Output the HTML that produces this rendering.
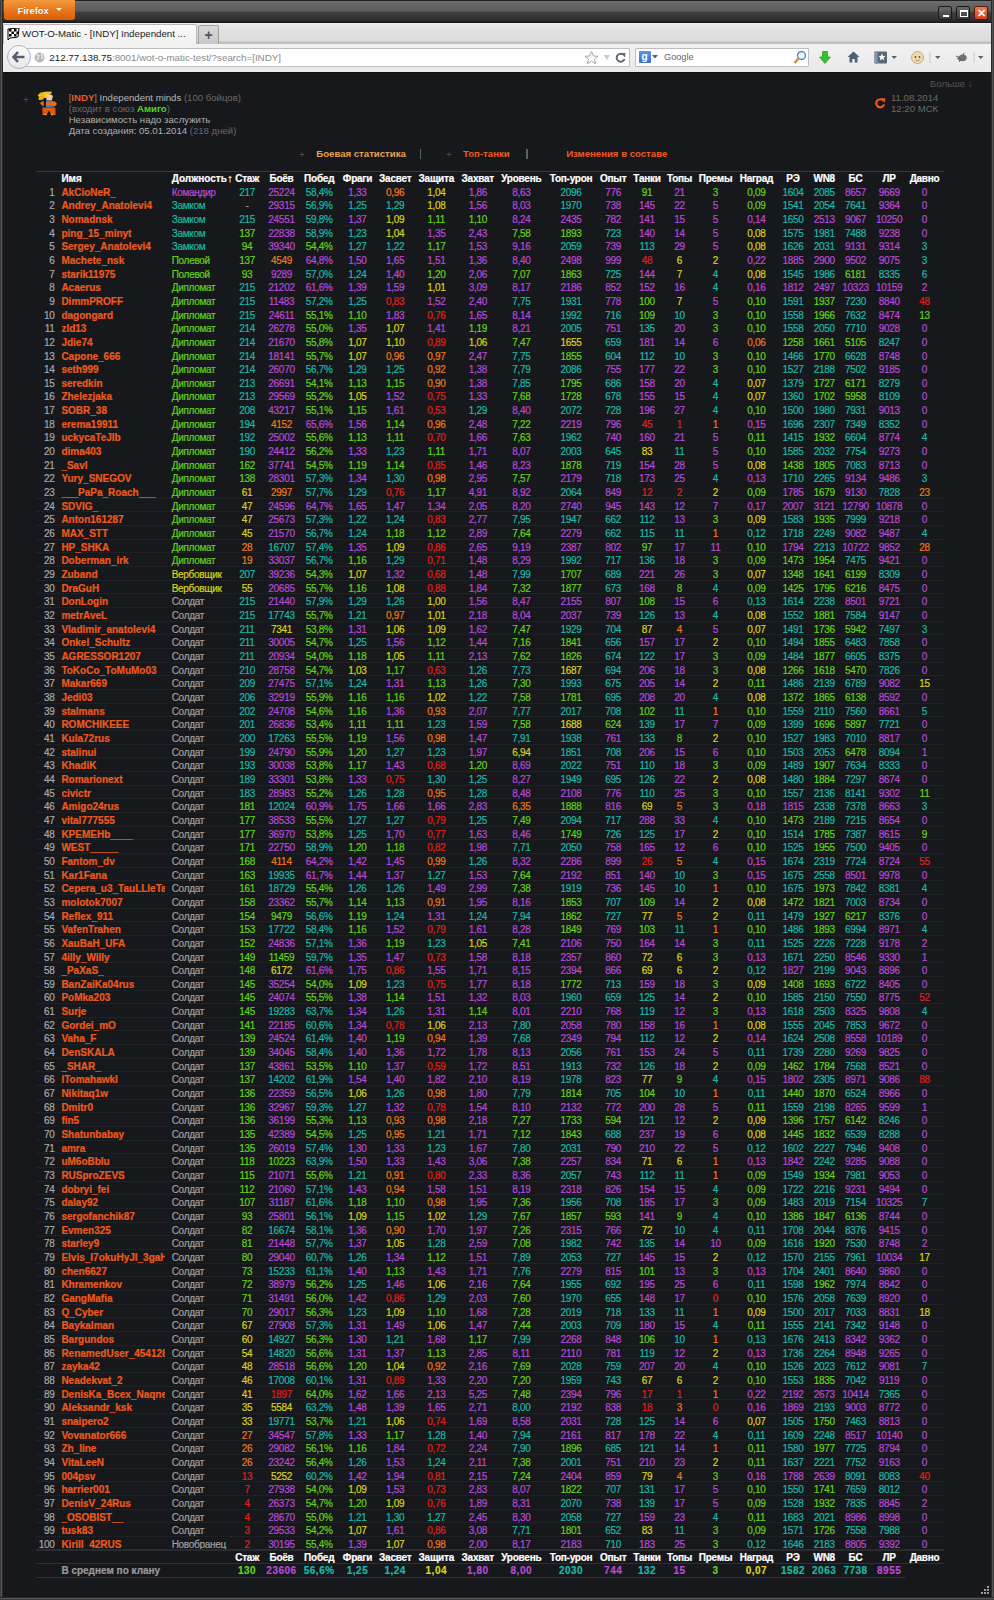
<!DOCTYPE html>
<html><head><meta charset="utf-8"><style>
*{margin:0;padding:0;box-sizing:border-box}
html,body{width:994px;height:1600px;overflow:hidden;background:#17181b;font-family:"Liberation Sans",sans-serif}
#win{position:absolute;left:0;top:0;width:994px;height:1600px;background:#17181b}
#title{position:absolute;left:0;top:0;width:994px;height:23px;background:linear-gradient(#222 0,#222 1px,#7a7a7a 1.6px,#686868 3px,#5c5c5c 11px,#3e3e3e 12.5px,#333 19px,#262626 21px,#1a1a1a 22px)}
#ffbtn{position:absolute;left:4px;top:0;width:71px;height:20px;border-radius:0 0 3px 3px;background:linear-gradient(#f39a3c,#e8791c 50%,#d9600a);color:#fff;font:bold 9.4px "Liberation Sans",sans-serif;line-height:21px;padding-left:13.5px;text-shadow:0 0 1px rgba(120,50,0,.6)}
#ffbtn:after{content:"";position:absolute;left:52px;top:8px;border-left:3px solid transparent;border-right:3px solid transparent;border-top:3px solid #fff}
.wc{position:absolute;top:6px;width:14px;height:14px;border-radius:2px;border:1px solid #1a1a1a;background:linear-gradient(#6a6a6a,#3a3a3a)}
#tabs{position:absolute;left:3px;top:22.8px;width:988px;height:21px;background:linear-gradient(#f2f2f2,#e6e6e6 2px,#dadada 18px,#bdbdbd 19.5px,#c4c4c4 21px)}
#tab{position:absolute;left:3px;top:23.5px;width:194px;height:21px;background:linear-gradient(#fafafa,#f0f0f0);border:1px solid #b8b8b8;border-bottom:none;border-radius:2px 2px 0 0}
#tabt{position:absolute;left:22px;top:28px;font:9.7px "Liberation Sans",sans-serif;color:#222;white-space:nowrap}
#plus{position:absolute;left:198px;top:24.7px;width:21px;height:19px;background:linear-gradient(#d8d8d8,#c8c8c8);border:1px solid #a0a0a0;border-bottom:none;border-radius:2px 2px 0 0;color:#4a5664;font:bold 14px "Liberation Sans",sans-serif;text-align:center;line-height:18px}
#nav{position:absolute;left:3px;top:43.5px;width:988px;height:28.3px;background:linear-gradient(#f2f2f2,#e9e9e9)}
#url{position:absolute;left:22px;top:48px;width:608px;height:18.5px;background:#fff;border:1px solid #bdbdbd;border-radius:1px}
#back{position:absolute;left:6.5px;top:45.2px;width:24px;height:24px;border-radius:50%;background:linear-gradient(#fbfbfb,#e8e8e8);border:1px solid #a9b5c2}
#urlt{position:absolute;left:49.3px;top:52px;font:9.8px "Liberation Sans",sans-serif;color:#222;white-space:nowrap}
#urlt span{color:#8a8a8a}
#srch{position:absolute;left:635px;top:48px;width:173.5px;height:18.5px;background:#fff;border:1px solid #bdbdbd;border-radius:1px}
#srcht{position:absolute;left:664px;top:52px;font:9.2px "Liberation Sans",sans-serif;color:#666}
#lb{position:absolute;left:0;top:0;width:3px;height:1600px;background:linear-gradient(90deg,#2e2e2e,#575757 50%,#121212)}
#rb{position:absolute;left:991px;top:0;width:3px;height:1600px;background:linear-gradient(90deg,#121212,#575757 50%,#2e2e2e)}
#bb{position:absolute;left:0;top:1597px;width:994px;height:3px;background:linear-gradient(#121212,#575757 50%,#2e2e2e)}
#navbot{position:absolute;left:3px;top:71.8px;width:988px;height:1.2px;background:#0e0e0e}
.g{position:absolute;font:9.6px "Liberation Sans",sans-serif;white-space:nowrap;line-height:11px}
/* table */
.r{position:absolute;left:36px;width:907.5px;height:12.7px;border-bottom:1px dotted #28292c}
.r b,.r i{position:absolute;top:0;font-style:normal;white-space:nowrap;line-height:13px;font-size:10px;letter-spacing:-0.3px;-webkit-text-stroke:0.2px}
.r .n{left:-26px;width:44.5px;text-align:right;font-weight:normal;color:#a6a8ae}
.r .nm{left:25.4px;width:104px;overflow:hidden;font-weight:bold;font-size:10px;letter-spacing:0;color:#ec5a1e}
.r .rl{left:135.7px;color:#a0a0a0}
.r [class^=k],.r [class*=" k"]{width:60px;text-align:center;margin-left:-36px}
.h b,.h .rl{color:#fff;font-weight:bold;font-size:10px;letter-spacing:-0.25px}
.h .nm{color:#fff}
.nb{border-bottom:none}.h{border-top:1px solid #38393c;border-bottom:none}
.fh{border-top:2px solid #2a2b2e;border-bottom:1px solid #2e2f32;height:14.7px}
.fa{border-bottom:1px solid #2e2f32;height:14.1px;width:870px}
.fa b{font-weight:bold;letter-spacing:0.5px}
.fa .av{color:#9a9a9a;width:200px;letter-spacing:0}
.k0{left:217.1px}.k1{left:251.5px}.k2{left:289.2px}.k3{left:327.5px}.k4{left:365.2px}.k5{left:406.3px}.k6{left:447.8px}.k7{left:491.3px}.k8{left:541.0px}.k9{left:583.2px}.k10{left:617.0px}.k11{left:649.5px}.k12{left:685.5px}.k13{left:726.4px}.k14{left:763.0px}.k15{left:794.2px}.k16{left:825.5px}.k17{left:859.2px}.k18{left:894.5px}
.r .R{color:#e0201a}.r .O{color:#ec7a1a}.r .Y{color:#d8d418}.r .G{color:#62d21a}.r .T{color:#1ab8a8}.r .P{color:#b84ad8}.r .X{color:#a0a0a0}
</style></head><body><div id="win">
<div id="title"></div>
<div id="ffbtn">Firefox</div>
<div class="wc" style="left:938px"><div style="position:absolute;left:4px;top:8px;width:6px;height:2px;background:#fff"></div></div>
<div class="wc" style="left:956px"><div style="position:absolute;left:2.5px;top:2.5px;width:8px;height:7px;border:1px solid #fff;border-top-width:2px"></div></div>
<div class="wc" style="left:974px;background:linear-gradient(#f07a50,#d0401c);border-color:#5a1a0a;color:#fff;font:bold 11px 'Liberation Sans';text-align:center;line-height:12px">✕</div>
<div id="tabs"></div>
<div id="tab"></div>
<svg style="position:absolute;left:7px;top:28px" width="13" height="12" viewBox="0 0 13 12"><path d="M1 1 L12 0 L11 9 L3 10 L1 12 Z" fill="#fff" stroke="#000" stroke-width="1"/><g fill="#000"><rect x="2" y="1" width="2.5" height="2.5"/><rect x="7" y="1" width="2.5" height="2.5"/><rect x="4.5" y="3.5" width="2.5" height="2.5"/><rect x="9.5" y="3.5" width="2" height="2.5"/><rect x="2" y="6" width="2.5" height="2.5"/><rect x="7" y="6" width="2.5" height="2.5"/></g></svg>
<div id="tabt">WOT-O-Matic - [INDY] Independent ...</div>
<div id="plus">+</div>
<div id="nav"></div>
<div id="navbot"></div>
<div id="url"></div>
<div id="back"></div>
<svg style="position:absolute;left:12px;top:51px" width="14" height="12" viewBox="0 0 14 12"><path d="M6 1 L1.5 6 L6 11 M2 6 H12.5" fill="none" stroke="#51606e" stroke-width="2.6"/></svg>
<svg style="position:absolute;left:34px;top:52px" width="11" height="11" viewBox="0 0 11 11"><circle cx="5.5" cy="5.5" r="5" fill="#b8b8b8"/><path d="M2 3 Q4 2 5 4 Q4 6 3 8 M7 2 Q9 4 8 7" stroke="#e8e8e8" stroke-width="1.4" fill="none"/></svg>
<div id="urlt">212.77.138.75<span>:8001/wot-o-matic-test/?search=[INDY]</span></div>
<svg style="position:absolute;left:583px;top:50px" width="46" height="15" viewBox="0 0 46 15"><path d="M8.5 1.5 L10.5 6 L15 6.3 L11.5 9.3 L12.7 13.8 L8.5 11.3 L4.3 13.8 L5.5 9.3 L2 6.3 L6.5 6 Z" fill="#fafafa" stroke="#a8a8a8" stroke-width="1"/><path d="M21 5 L27 5 L24 10 Z" fill="#c0c8d0"/><path d="M40 4.5 A4 4 0 1 0 41.5 9" fill="none" stroke="#606a74" stroke-width="2"/><path d="M38 3 L42.5 3 L42 7.5 Z" fill="#606a74"/></svg>
<div id="srch"></div>
<div style="position:absolute;left:638.5px;top:51px;width:12px;height:12px;background:linear-gradient(#5b95e8,#3a70d0);border-radius:1px;color:#fff;font:bold 10px 'Liberation Sans';text-align:center;line-height:12px">g</div>
<svg style="position:absolute;left:652px;top:55px" width="6" height="4"><path d="M0 0 H6 L3 3.5Z" fill="#606060"/></svg>
<div id="srcht">Google</div>
<svg style="position:absolute;left:793px;top:50px" width="14" height="15" viewBox="0 0 14 15"><circle cx="8.5" cy="5.5" r="4" fill="#e8f4ff" stroke="#5a8ab8" stroke-width="1.4"/><path d="M5.5 8.5 L1.5 13" stroke="#d88a30" stroke-width="2.4"/></svg>
<svg style="position:absolute;left:819px;top:51px" width="12" height="13" viewBox="0 0 12 13"><path d="M3.5 0.5 H8.5 V6 H11.5 L6 12.5 L0.5 6 H3.5 Z" fill="#2ec42a" stroke="#1a8a18" stroke-width="0.6"/></svg>
<svg style="position:absolute;left:847px;top:51px" width="13" height="12" viewBox="0 0 13 12"><path d="M6.5 0.5 L12.5 6 H10.5 V11.5 H7.8 V8 H5.2 V11.5 H2.5 V6 H0.5 Z" fill="#4f6272"/></svg>
<svg style="position:absolute;left:874px;top:51px" width="24" height="13" viewBox="0 0 24 13"><rect x="0.5" y="0.5" width="12.5" height="12" rx="1" fill="#58697a"/><rect x="0.5" y="0.5" width="3" height="12" fill="#8796a4"/><path d="M8 2.5 L9 5 L11.5 5.2 L9.6 6.8 L10.2 9.3 L8 7.9 L5.8 9.3 L6.4 6.8 L4.5 5.2 L7 5 Z" fill="#fff"/><path d="M17.5 5 H23 L20.2 8 Z" fill="#4f6272"/></svg>
<svg style="position:absolute;left:911px;top:51px" width="30" height="13" viewBox="0 0 30 13"><circle cx="6.5" cy="6.5" r="6" fill="#f0d8b0" stroke="#c8a878" stroke-width="1"/><circle cx="4.5" cy="6" r="0.9" fill="#555"/><circle cx="8.5" cy="6" r="0.9" fill="#555"/><path d="M4.5 9 Q6.5 10.5 8.5 9" stroke="#777" fill="none" stroke-width="0.8"/><rect x="18.5" y="1" width="1" height="11" fill="#c8ccd0"/><path d="M24 5 H29.5 L26.7 8 Z" fill="#4f6272"/></svg>
<svg style="position:absolute;left:955px;top:51px" width="30" height="13" viewBox="0 0 30 13"><path d="M2 8 Q5 2 10 4 Q13 6 11 9 Q7 12 2 8Z" fill="#707070"/><path d="M1 5 L5 7 M4 11 L6 8 M9 2 L8 5" stroke="#606060" stroke-width="1"/><rect x="18.5" y="1" width="1" height="11" fill="#c8ccd0"/><path d="M23 5 H28.5 L25.7 8 Z" fill="#4f6272"/></svg>
<div id="lb"></div><div id="rb"></div><div id="bb"></div>

<!-- page header -->
<div class="g" style="left:23px;top:94px;color:#4a4a4a;font-size:10px">+</div>
<svg style="position:absolute;left:30px;top:86px" width="36" height="34" viewBox="0 0 36 34"><path d="M7.6 10 Q9 6.5 12.5 6.2 L15 5.8 L21.4 5.6 L21.8 7.2 L17 9.5 L15.5 12.5 Q12 14.5 8.8 13.8 Q8 12 9.5 11 Z" fill="#f2c414"/><path d="M9 8.5 L13 7.5 M9.5 11 L13.5 10 M10 13 L14 12" stroke="#c89a08" stroke-width="0.7"/><path d="M15.9 8.6 Q19 7.8 22.2 9 L23.2 11.5 L22.2 12.2 L22 14.5 L16.5 14.5 Z" fill="#f4c8a0"/><path d="M22.4 12 L23.3 12.6" stroke="#222" stroke-width="0.8"/><path d="M10.1 17 Q11 15 15.2 14.9 L22.1 14.9 Q26.8 15.5 26.8 18 Q26 20.7 22 20.7 L15.9 20.7 Q11 20 10.1 17 Z" fill="#ec6a1c"/><rect x="15.2" y="14.9" width="6.9" height="1.4" fill="#2a8cc8"/><rect x="13.8" y="12" width="2" height="9.7" fill="#0c0c0c"/><rect x="15.9" y="19.2" width="6.6" height="2.2" fill="#2a8cc8"/><path d="M12.3 21.4 L25.4 21.4 L25.6 29 L21.3 29 L18.9 24.4 L16.6 29 L12.6 29 Z" fill="#dc5a14"/><rect x="14.4" y="28" width="2" height="1.2" fill="#e8b040"/><rect x="21" y="28" width="2" height="1.2" fill="#e8b040"/></svg>
<div class="g" style="left:68.7px;top:92px;color:#b8b8b8"><span style="color:#8a8a8a">[</span><b style="color:#ec5a22">INDY</b><span style="color:#8a8a8a">]</span> Independent minds <span style="color:#6a6a6a">(100 бойцов)</span></div>
<div class="g" style="left:68.7px;top:103px;color:#6a6a6a">(входит в союз <b style="color:#4ad824">Амиго</b>)</div>
<div class="g" style="left:68.7px;top:114px;color:#b0b0b0">Независимость надо заслужить</div>
<div class="g" style="left:68.7px;top:125px;color:#b0b0b0">Дата создания: 05.01.2014 <span style="color:#6a6a6a">(218 дней)</span></div>
<div class="g" style="left:930px;top:78px;color:#555">Больше ↓</div>
<svg style="position:absolute;left:874px;top:97px" width="12" height="12" viewBox="0 0 12 12"><path d="M9.5 4 A4 4 0 1 0 10 7.5" fill="none" stroke="#ec5a1e" stroke-width="2.2"/><path d="M7 1 L11.5 1.5 L10.5 6 Z" fill="#ec5a1e"/></svg>
<div class="g" style="left:891px;top:92px;color:#6a6a6a">11.08.2014</div>
<div class="g" style="left:891px;top:103px;color:#6a6a6a">12:20 МСК</div>
<div class="g" style="left:299px;top:148.5px;color:#4a4a4a;font-size:10px">+</div>
<div class="g" style="left:316.3px;top:148px;color:#e8a050;font-weight:bold">Боевая статистика</div>
<div style="position:absolute;left:419.5px;top:149px;width:1.5px;height:10px;background:#5a6070"></div>
<div class="g" style="left:446px;top:148.5px;color:#4a4a4a;font-size:10px">+</div>
<div class="g" style="left:463px;top:148px;color:#ec5a22;font-weight:bold">Топ-танки</div>
<div style="position:absolute;left:526px;top:149px;width:1.5px;height:10px;background:#5a6070"></div>
<div class="g" style="left:566.2px;top:148px;color:#ec5a22;font-weight:bold">Изменения в составе</div>
<div class="r h" style="top:170.5px"><b class="nm">Имя</b><b class="rl" style="letter-spacing:0">Должность<span style="font-size:11px;font-weight:normal;margin-left:0.5px">↑</span></b><b class="k0">Стаж</b><b class="k1">Боёв</b><b class="k2">Побед</b><b class="k3">Фраги</b><b class="k4">Засвет</b><b class="k5">Защита</b><b class="k6">Захват</b><b class="k7">Уровень</b><b class="k8">Топ-урон</b><b class="k9">Опыт</b><b class="k10">Танки</b><b class="k11">Топы</b><b class="k12">Премы</b><b class="k13">Наград</b><b class="k14">РЭ</b><b class="k15">WN8</b><b class="k16">БС</b><b class="k17">ЛР</b><b class="k18">Давно</b></div>
<div class="r nb" style="top:185.60px"><b class="n">1</b><b class="nm">AkCioNeR_</b><i class="rl P">Командир</i><i class="k0 T">217</i><i class="k1 P">25224</i><i class="k2 T">58,4%</i><i class="k3 P">1,33</i><i class="k4 O">0,96</i><i class="k5 Y">1,04</i><i class="k6 P">1,86</i><i class="k7 P">8,63</i><i class="k8 T">2096</i><i class="k9 P">776</i><i class="k10 G">91</i><i class="k11 P">21</i><i class="k12 G">3</i><i class="k13 G">0,09</i><i class="k14 T">1604</i><i class="k15 T">2085</i><i class="k16 P">8657</i><i class="k17 P">9669</i><i class="k18 P">0</i></div>
<div class="r nb" style="top:199.26px"><b class="n">2</b><b class="nm">Andrey_Anatolevi4</b><i class="rl T">Замком</i><i class="k0 X">-</i><i class="k1 P">29315</i><i class="k2 T">56,9%</i><i class="k3 T">1,25</i><i class="k4 T">1,29</i><i class="k5 Y">1,08</i><i class="k6 P">1,56</i><i class="k7 P">8,03</i><i class="k8 T">1970</i><i class="k9 P">738</i><i class="k10 P">145</i><i class="k11 P">22</i><i class="k12 P">5</i><i class="k13 G">0,09</i><i class="k14 T">1541</i><i class="k15 T">2054</i><i class="k16 T">7641</i><i class="k17 P">9364</i><i class="k18 P">0</i></div>
<div class="r nb" style="top:212.92px"><b class="n">3</b><b class="nm">Nomadnsk</b><i class="rl T">Замком</i><i class="k0 T">215</i><i class="k1 P">24551</i><i class="k2 T">59,8%</i><i class="k3 P">1,37</i><i class="k4 Y">1,09</i><i class="k5 G">1,11</i><i class="k6 G">1,10</i><i class="k7 P">8,24</i><i class="k8 P">2435</i><i class="k9 P">782</i><i class="k10 P">141</i><i class="k11 P">15</i><i class="k12 P">5</i><i class="k13 P">0,14</i><i class="k14 T">1650</i><i class="k15 P">2513</i><i class="k16 P">9067</i><i class="k17 P">10250</i><i class="k18 P">0</i></div>
<div class="r nb" style="top:226.58px"><b class="n">4</b><b class="nm">ping_15_minyt</b><i class="rl T">Замком</i><i class="k0 G">137</i><i class="k1 P">22838</i><i class="k2 T">58,9%</i><i class="k3 T">1,23</i><i class="k4 Y">1,04</i><i class="k5 P">1,35</i><i class="k6 P">2,43</i><i class="k7 G">7,58</i><i class="k8 G">1893</i><i class="k9 T">723</i><i class="k10 P">140</i><i class="k11 P">14</i><i class="k12 P">5</i><i class="k13 Y">0,08</i><i class="k14 T">1575</i><i class="k15 T">1981</i><i class="k16 T">7488</i><i class="k17 P">9238</i><i class="k18 P">0</i></div>
<div class="r nb" style="top:240.24px"><b class="n">5</b><b class="nm">Sergey_Anatolevi4</b><i class="rl T">Замком</i><i class="k0 G">94</i><i class="k1 P">39340</i><i class="k2 G">54,4%</i><i class="k3 T">1,27</i><i class="k4 T">1,22</i><i class="k5 G">1,17</i><i class="k6 P">1,53</i><i class="k7 P">9,16</i><i class="k8 T">2059</i><i class="k9 P">739</i><i class="k10 T">113</i><i class="k11 P">29</i><i class="k12 P">5</i><i class="k13 Y">0,08</i><i class="k14 T">1626</i><i class="k15 T">2031</i><i class="k16 P">9131</i><i class="k17 P">9314</i><i class="k18 T">3</i></div>
<div class="r nb" style="top:253.89px"><b class="n">6</b><b class="nm">Machete_nsk</b><i class="rl G">Полевой</i><i class="k0 G">137</i><i class="k1 O">4549</i><i class="k2 P">64,8%</i><i class="k3 P">1,50</i><i class="k4 P">1,65</i><i class="k5 P">1,51</i><i class="k6 P">1,36</i><i class="k7 P">8,40</i><i class="k8 P">2498</i><i class="k9 P">999</i><i class="k10 R">48</i><i class="k11 Y">6</i><i class="k12 Y">2</i><i class="k13 P">0,22</i><i class="k14 P">1885</i><i class="k15 P">2900</i><i class="k16 P">9502</i><i class="k17 P">9075</i><i class="k18 T">3</i></div>
<div class="r nb" style="top:267.55px"><b class="n">7</b><b class="nm">starik11975</b><i class="rl G">Полевой</i><i class="k0 G">93</i><i class="k1 P">9289</i><i class="k2 T">57,0%</i><i class="k3 T">1,24</i><i class="k4 P">1,40</i><i class="k5 G">1,20</i><i class="k6 P">2,06</i><i class="k7 G">7,07</i><i class="k8 G">1863</i><i class="k9 T">725</i><i class="k10 P">144</i><i class="k11 Y">7</i><i class="k12 T">4</i><i class="k13 Y">0,08</i><i class="k14 T">1545</i><i class="k15 T">1986</i><i class="k16 G">6181</i><i class="k17 T">8335</i><i class="k18 T">6</i></div>
<div class="r nb" style="top:281.21px"><b class="n">8</b><b class="nm">Acaerus</b><i class="rl G">Дипломат</i><i class="k0 T">215</i><i class="k1 P">21202</i><i class="k2 P">61,6%</i><i class="k3 P">1,39</i><i class="k4 P">1,59</i><i class="k5 Y">1,01</i><i class="k6 P">3,09</i><i class="k7 P">8,17</i><i class="k8 P">2186</i><i class="k9 P">852</i><i class="k10 P">152</i><i class="k11 P">16</i><i class="k12 T">4</i><i class="k13 P">0,16</i><i class="k14 P">1812</i><i class="k15 P">2497</i><i class="k16 P">10323</i><i class="k17 P">10159</i><i class="k18 P">2</i></div>
<div class="r nb" style="top:294.87px"><b class="n">9</b><b class="nm">DimmPROFF</b><i class="rl G">Дипломат</i><i class="k0 T">215</i><i class="k1 P">11483</i><i class="k2 T">57,2%</i><i class="k3 T">1,25</i><i class="k4 R">0,83</i><i class="k5 P">1,52</i><i class="k6 P">2,40</i><i class="k7 T">7,75</i><i class="k8 T">1931</i><i class="k9 P">778</i><i class="k10 G">100</i><i class="k11 Y">7</i><i class="k12 P">5</i><i class="k13 G">0,10</i><i class="k14 T">1591</i><i class="k15 G">1937</i><i class="k16 T">7230</i><i class="k17 P">8840</i><i class="k18 R">48</i></div>
<div class="r nb" style="top:308.53px"><b class="n">10</b><b class="nm">dagongard</b><i class="rl G">Дипломат</i><i class="k0 T">215</i><i class="k1 P">24611</i><i class="k2 G">55,1%</i><i class="k3 G">1,10</i><i class="k4 P">1,83</i><i class="k5 R">0,76</i><i class="k6 P">1,65</i><i class="k7 P">8,14</i><i class="k8 T">1992</i><i class="k9 T">716</i><i class="k10 G">109</i><i class="k11 T">10</i><i class="k12 G">3</i><i class="k13 G">0,10</i><i class="k14 T">1558</i><i class="k15 G">1966</i><i class="k16 T">7632</i><i class="k17 P">8474</i><i class="k18 G">13</i></div>
<div class="r nb" style="top:322.19px"><b class="n">11</b><b class="nm">zld13</b><i class="rl G">Дипломат</i><i class="k0 T">214</i><i class="k1 P">26278</i><i class="k2 G">55,0%</i><i class="k3 P">1,35</i><i class="k4 Y">1,07</i><i class="k5 P">1,41</i><i class="k6 G">1,19</i><i class="k7 P">8,21</i><i class="k8 T">2005</i><i class="k9 P">751</i><i class="k10 T">135</i><i class="k11 P">20</i><i class="k12 G">3</i><i class="k13 G">0,10</i><i class="k14 T">1558</i><i class="k15 T">2050</i><i class="k16 T">7710</i><i class="k17 P">9028</i><i class="k18 P">0</i></div>
<div class="r nb" style="top:335.85px"><b class="n">12</b><b class="nm">Jdie74</b><i class="rl G">Дипломат</i><i class="k0 T">214</i><i class="k1 P">21670</i><i class="k2 G">55,8%</i><i class="k3 Y">1,07</i><i class="k4 Y">1,10</i><i class="k5 R">0,89</i><i class="k6 Y">1,06</i><i class="k7 G">7,47</i><i class="k8 Y">1655</i><i class="k9 T">659</i><i class="k10 P">181</i><i class="k11 P">14</i><i class="k12 P">6</i><i class="k13 O">0,06</i><i class="k14 G">1258</i><i class="k15 G">1661</i><i class="k16 G">5105</i><i class="k17 T">8247</i><i class="k18 P">0</i></div>
<div class="r nb" style="top:349.51px"><b class="n">13</b><b class="nm">Capone_666</b><i class="rl G">Дипломат</i><i class="k0 T">214</i><i class="k1 P">18141</i><i class="k2 G">55,7%</i><i class="k3 Y">1,07</i><i class="k4 O">0,96</i><i class="k5 O">0,97</i><i class="k6 P">2,47</i><i class="k7 T">7,75</i><i class="k8 G">1855</i><i class="k9 T">604</i><i class="k10 T">112</i><i class="k11 T">10</i><i class="k12 G">3</i><i class="k13 G">0,10</i><i class="k14 T">1466</i><i class="k15 G">1770</i><i class="k16 T">6628</i><i class="k17 P">8748</i><i class="k18 P">0</i></div>
<div class="r nb" style="top:363.17px"><b class="n">14</b><b class="nm">seth999</b><i class="rl G">Дипломат</i><i class="k0 T">214</i><i class="k1 P">26070</i><i class="k2 T">56,7%</i><i class="k3 T">1,29</i><i class="k4 T">1,25</i><i class="k5 O">0,92</i><i class="k6 P">1,38</i><i class="k7 T">7,79</i><i class="k8 T">2086</i><i class="k9 P">755</i><i class="k10 P">177</i><i class="k11 P">22</i><i class="k12 G">3</i><i class="k13 G">0,10</i><i class="k14 T">1527</i><i class="k15 T">2188</i><i class="k16 T">7502</i><i class="k17 P">9185</i><i class="k18 P">0</i></div>
<div class="r nb" style="top:376.83px"><b class="n">15</b><b class="nm">seredkin</b><i class="rl G">Дипломат</i><i class="k0 T">213</i><i class="k1 P">26691</i><i class="k2 G">54,1%</i><i class="k3 G">1,13</i><i class="k4 G">1,15</i><i class="k5 O">0,90</i><i class="k6 P">1,38</i><i class="k7 T">7,85</i><i class="k8 G">1795</i><i class="k9 T">686</i><i class="k10 P">158</i><i class="k11 P">20</i><i class="k12 T">4</i><i class="k13 Y">0,07</i><i class="k14 T">1379</i><i class="k15 G">1727</i><i class="k16 G">6171</i><i class="k17 T">8279</i><i class="k18 P">0</i></div>
<div class="r nb" style="top:390.49px"><b class="n">16</b><b class="nm">Zhelezjaka</b><i class="rl G">Дипломат</i><i class="k0 T">213</i><i class="k1 P">29569</i><i class="k2 G">55,2%</i><i class="k3 Y">1,05</i><i class="k4 P">1,52</i><i class="k5 R">0,75</i><i class="k6 P">1,33</i><i class="k7 G">7,68</i><i class="k8 G">1728</i><i class="k9 T">678</i><i class="k10 P">155</i><i class="k11 P">15</i><i class="k12 T">4</i><i class="k13 Y">0,07</i><i class="k14 T">1360</i><i class="k15 G">1702</i><i class="k16 G">5958</i><i class="k17 T">8109</i><i class="k18 P">0</i></div>
<div class="r nb" style="top:404.14px"><b class="n">17</b><b class="nm">SOBR_38</b><i class="rl G">Дипломат</i><i class="k0 T">208</i><i class="k1 P">43217</i><i class="k2 G">55,1%</i><i class="k3 G">1,15</i><i class="k4 P">1,61</i><i class="k5 R">0,53</i><i class="k6 T">1,29</i><i class="k7 P">8,40</i><i class="k8 T">2072</i><i class="k9 T">728</i><i class="k10 P">196</i><i class="k11 P">27</i><i class="k12 T">4</i><i class="k13 G">0,10</i><i class="k14 T">1500</i><i class="k15 T">1980</i><i class="k16 T">7931</i><i class="k17 P">9013</i><i class="k18 P">0</i></div>
<div class="r nb" style="top:417.80px"><b class="n">18</b><b class="nm">erema19911</b><i class="rl G">Дипломат</i><i class="k0 T">194</i><i class="k1 O">4152</i><i class="k2 P">65,6%</i><i class="k3 P">1,56</i><i class="k4 G">1,14</i><i class="k5 O">0,96</i><i class="k6 P">2,48</i><i class="k7 G">7,22</i><i class="k8 P">2219</i><i class="k9 P">796</i><i class="k10 R">45</i><i class="k11 R">1</i><i class="k12 O">1</i><i class="k13 P">0,15</i><i class="k14 T">1696</i><i class="k15 T">2307</i><i class="k16 T">7349</i><i class="k17 T">8352</i><i class="k18 P">0</i></div>
<div class="r nb" style="top:431.46px"><b class="n">19</b><b class="nm">uckycaTeJIb</b><i class="rl G">Дипломат</i><i class="k0 T">192</i><i class="k1 P">25002</i><i class="k2 G">55,6%</i><i class="k3 G">1,13</i><i class="k4 G">1,11</i><i class="k5 R">0,70</i><i class="k6 P">1,66</i><i class="k7 G">7,63</i><i class="k8 T">1962</i><i class="k9 P">740</i><i class="k10 P">160</i><i class="k11 P">21</i><i class="k12 P">5</i><i class="k13 G">0,11</i><i class="k14 T">1415</i><i class="k15 G">1932</i><i class="k16 T">6604</i><i class="k17 P">8774</i><i class="k18 T">4</i></div>
<div class="r nb" style="top:445.12px"><b class="n">20</b><b class="nm">dima403</b><i class="rl G">Дипломат</i><i class="k0 T">190</i><i class="k1 P">24412</i><i class="k2 G">56,2%</i><i class="k3 P">1,33</i><i class="k4 T">1,23</i><i class="k5 G">1,11</i><i class="k6 P">1,71</i><i class="k7 P">8,07</i><i class="k8 T">2003</i><i class="k9 T">645</i><i class="k10 Y">83</i><i class="k11 T">11</i><i class="k12 P">5</i><i class="k13 G">0,10</i><i class="k14 T">1585</i><i class="k15 T">2032</i><i class="k16 T">7754</i><i class="k17 P">9273</i><i class="k18 P">0</i></div>
<div class="r nb" style="top:458.78px"><b class="n">21</b><b class="nm">_Savl</b><i class="rl G">Дипломат</i><i class="k0 G">162</i><i class="k1 P">37741</i><i class="k2 G">54,5%</i><i class="k3 G">1,19</i><i class="k4 G">1,14</i><i class="k5 R">0,85</i><i class="k6 P">1,46</i><i class="k7 P">8,23</i><i class="k8 G">1878</i><i class="k9 T">719</i><i class="k10 P">154</i><i class="k11 P">28</i><i class="k12 P">5</i><i class="k13 Y">0,08</i><i class="k14 G">1438</i><i class="k15 G">1805</i><i class="k16 T">7083</i><i class="k17 P">8713</i><i class="k18 P">0</i></div>
<div class="r nb" style="top:472.44px"><b class="n">22</b><b class="nm">Yury_SNEGOV</b><i class="rl G">Дипломат</i><i class="k0 G">138</i><i class="k1 P">28301</i><i class="k2 T">57,3%</i><i class="k3 P">1,34</i><i class="k4 T">1,30</i><i class="k5 O">0,98</i><i class="k6 P">2,95</i><i class="k7 G">7,57</i><i class="k8 P">2179</i><i class="k9 T">718</i><i class="k10 P">173</i><i class="k11 P">25</i><i class="k12 T">4</i><i class="k13 P">0,13</i><i class="k14 T">1710</i><i class="k15 T">2265</i><i class="k16 P">9134</i><i class="k17 P">9486</i><i class="k18 T">3</i></div>
<div class="r" style="top:486.10px"><b class="n">23</b><b class="nm">___PaPa_Roach___</b><i class="rl G">Дипломат</i><i class="k0 Y">61</i><i class="k1 O">2997</i><i class="k2 T">57,7%</i><i class="k3 T">1,29</i><i class="k4 R">0,76</i><i class="k5 G">1,17</i><i class="k6 P">4,91</i><i class="k7 P">8,92</i><i class="k8 T">2064</i><i class="k9 P">849</i><i class="k10 R">12</i><i class="k11 R">2</i><i class="k12 Y">2</i><i class="k13 G">0,09</i><i class="k14 P">1785</i><i class="k15 G">1679</i><i class="k16 P">9130</i><i class="k17 T">7828</i><i class="k18 O">23</i></div>
<div class="r" style="top:499.76px"><b class="n">24</b><b class="nm">SDVIG_</b><i class="rl G">Дипломат</i><i class="k0 Y">47</i><i class="k1 P">24596</i><i class="k2 P">64,7%</i><i class="k3 P">1,65</i><i class="k4 P">1,47</i><i class="k5 P">1,34</i><i class="k6 P">2,05</i><i class="k7 P">8,20</i><i class="k8 P">2740</i><i class="k9 P">945</i><i class="k10 P">143</i><i class="k11 P">12</i><i class="k12 P">7</i><i class="k13 P">0,17</i><i class="k14 P">2007</i><i class="k15 P">3121</i><i class="k16 P">12790</i><i class="k17 P">10878</i><i class="k18 P">0</i></div>
<div class="r" style="top:513.42px"><b class="n">25</b><b class="nm">Anton161287</b><i class="rl G">Дипломат</i><i class="k0 Y">47</i><i class="k1 P">25673</i><i class="k2 T">57,3%</i><i class="k3 T">1,22</i><i class="k4 T">1,24</i><i class="k5 R">0,83</i><i class="k6 P">2,77</i><i class="k7 T">7,95</i><i class="k8 T">1947</i><i class="k9 T">662</i><i class="k10 T">112</i><i class="k11 P">13</i><i class="k12 G">3</i><i class="k13 Y">0,09</i><i class="k14 T">1583</i><i class="k15 G">1935</i><i class="k16 T">7999</i><i class="k17 P">9218</i><i class="k18 P">0</i></div>
<div class="r" style="top:527.08px"><b class="n">26</b><b class="nm">MAX_STT</b><i class="rl G">Дипломат</i><i class="k0 Y">45</i><i class="k1 P">21570</i><i class="k2 T">56,7%</i><i class="k3 T">1,24</i><i class="k4 G">1,18</i><i class="k5 G">1,12</i><i class="k6 P">2,89</i><i class="k7 G">7,64</i><i class="k8 P">2279</i><i class="k9 T">662</i><i class="k10 T">115</i><i class="k11 T">11</i><i class="k12 O">1</i><i class="k13 T">0,12</i><i class="k14 T">1718</i><i class="k15 T">2249</i><i class="k16 P">9082</i><i class="k17 P">9487</i><i class="k18 T">4</i></div>
<div class="r" style="top:540.73px"><b class="n">27</b><b class="nm">HP_SHKA</b><i class="rl G">Дипломат</i><i class="k0 O">28</i><i class="k1 T">16707</i><i class="k2 T">57,4%</i><i class="k3 P">1,35</i><i class="k4 Y">1,09</i><i class="k5 R">0,86</i><i class="k6 P">2,65</i><i class="k7 P">9,19</i><i class="k8 P">2387</i><i class="k9 P">802</i><i class="k10 G">97</i><i class="k11 P">17</i><i class="k12 P">11</i><i class="k13 G">0,10</i><i class="k14 P">1794</i><i class="k15 T">2213</i><i class="k16 P">10722</i><i class="k17 P">9852</i><i class="k18 O">28</i></div>
<div class="r" style="top:554.39px"><b class="n">28</b><b class="nm">Doberman_irk</b><i class="rl G">Дипломат</i><i class="k0 O">19</i><i class="k1 P">33037</i><i class="k2 T">56,7%</i><i class="k3 G">1,16</i><i class="k4 T">1,29</i><i class="k5 R">0,71</i><i class="k6 P">1,48</i><i class="k7 P">8,29</i><i class="k8 T">1992</i><i class="k9 T">717</i><i class="k10 T">136</i><i class="k11 P">18</i><i class="k12 G">3</i><i class="k13 G">0,09</i><i class="k14 G">1473</i><i class="k15 G">1954</i><i class="k16 T">7475</i><i class="k17 P">9421</i><i class="k18 P">0</i></div>
<div class="r" style="top:568.05px"><b class="n">29</b><b class="nm">Zuband</b><i class="rl Y">Вербовщик</i><i class="k0 T">207</i><i class="k1 P">39236</i><i class="k2 G">54,3%</i><i class="k3 Y">1,07</i><i class="k4 P">1,32</i><i class="k5 R">0,68</i><i class="k6 P">1,48</i><i class="k7 T">7,99</i><i class="k8 G">1707</i><i class="k9 T">689</i><i class="k10 P">221</i><i class="k11 P">26</i><i class="k12 G">3</i><i class="k13 Y">0,07</i><i class="k14 G">1348</i><i class="k15 G">1641</i><i class="k16 G">6199</i><i class="k17 T">8309</i><i class="k18 P">0</i></div>
<div class="r" style="top:581.71px"><b class="n">30</b><b class="nm">DraGuH</b><i class="rl Y">Вербовщик</i><i class="k0 Y">55</i><i class="k1 P">20685</i><i class="k2 G">55,7%</i><i class="k3 G">1,16</i><i class="k4 Y">1,08</i><i class="k5 R">0,88</i><i class="k6 P">1,84</i><i class="k7 G">7,32</i><i class="k8 G">1877</i><i class="k9 T">673</i><i class="k10 P">168</i><i class="k11 G">8</i><i class="k12 T">4</i><i class="k13 G">0,09</i><i class="k14 G">1425</i><i class="k15 G">1795</i><i class="k16 G">6216</i><i class="k17 P">8475</i><i class="k18 P">0</i></div>
<div class="r" style="top:595.37px"><b class="n">31</b><b class="nm">DonLogin</b><i class="rl X">Солдат</i><i class="k0 T">215</i><i class="k1 P">21440</i><i class="k2 T">57,9%</i><i class="k3 T">1,29</i><i class="k4 T">1,26</i><i class="k5 Y">1,00</i><i class="k6 P">1,56</i><i class="k7 P">8,47</i><i class="k8 P">2155</i><i class="k9 P">807</i><i class="k10 G">108</i><i class="k11 P">15</i><i class="k12 P">6</i><i class="k13 T">0,13</i><i class="k14 T">1614</i><i class="k15 T">2238</i><i class="k16 P">8501</i><i class="k17 P">9721</i><i class="k18 P">0</i></div>
<div class="r" style="top:609.03px"><b class="n">32</b><b class="nm">metrAveL</b><i class="rl X">Солдат</i><i class="k0 T">215</i><i class="k1 T">17743</i><i class="k2 G">55,7%</i><i class="k3 T">1,21</i><i class="k4 O">0,97</i><i class="k5 Y">1,01</i><i class="k6 P">2,18</i><i class="k7 P">8,04</i><i class="k8 P">2037</i><i class="k9 P">739</i><i class="k10 T">126</i><i class="k11 P">13</i><i class="k12 T">4</i><i class="k13 Y">0,08</i><i class="k14 T">1552</i><i class="k15 G">1881</i><i class="k16 T">7584</i><i class="k17 P">9147</i><i class="k18 P">0</i></div>
<div class="r" style="top:622.69px"><b class="n">33</b><b class="nm">Vladimir_anatolevi4</b><i class="rl X">Солдат</i><i class="k0 T">211</i><i class="k1 Y">7341</i><i class="k2 G">53,8%</i><i class="k3 P">1,31</i><i class="k4 Y">1,06</i><i class="k5 Y">1,09</i><i class="k6 P">1,62</i><i class="k7 G">7,47</i><i class="k8 T">1929</i><i class="k9 T">704</i><i class="k10 Y">87</i><i class="k11 O">4</i><i class="k12 P">5</i><i class="k13 Y">0,07</i><i class="k14 T">1491</i><i class="k15 G">1736</i><i class="k16 G">5942</i><i class="k17 T">7497</i><i class="k18 T">3</i></div>
<div class="r" style="top:636.35px"><b class="n">34</b><b class="nm">Onkel_Schultz</b><i class="rl X">Солдат</i><i class="k0 T">211</i><i class="k1 P">30005</i><i class="k2 G">54,7%</i><i class="k3 T">1,25</i><i class="k4 P">1,56</i><i class="k5 G">1,12</i><i class="k6 P">1,44</i><i class="k7 G">7,16</i><i class="k8 G">1841</i><i class="k9 T">656</i><i class="k10 P">157</i><i class="k11 P">17</i><i class="k12 Y">2</i><i class="k13 G">0,10</i><i class="k14 T">1494</i><i class="k15 G">1855</i><i class="k16 T">6483</i><i class="k17 T">7858</i><i class="k18 P">0</i></div>
<div class="r" style="top:650.01px"><b class="n">35</b><b class="nm">AGRESSOR1207</b><i class="rl X">Солдат</i><i class="k0 T">211</i><i class="k1 P">20934</i><i class="k2 G">54,0%</i><i class="k3 G">1,18</i><i class="k4 Y">1,05</i><i class="k5 G">1,11</i><i class="k6 P">2,13</i><i class="k7 G">7,62</i><i class="k8 G">1826</i><i class="k9 T">674</i><i class="k10 T">122</i><i class="k11 P">17</i><i class="k12 G">3</i><i class="k13 G">0,09</i><i class="k14 T">1484</i><i class="k15 G">1877</i><i class="k16 T">6605</i><i class="k17 T">8375</i><i class="k18 P">0</i></div>
<div class="r" style="top:663.66px"><b class="n">36</b><b class="nm">ToKoCo_ToMuMo03</b><i class="rl X">Солдат</i><i class="k0 T">210</i><i class="k1 P">28758</i><i class="k2 G">54,7%</i><i class="k3 Y">1,03</i><i class="k4 G">1,17</i><i class="k5 R">0,63</i><i class="k6 T">1,26</i><i class="k7 T">7,73</i><i class="k8 Y">1687</i><i class="k9 T">694</i><i class="k10 P">206</i><i class="k11 P">18</i><i class="k12 G">3</i><i class="k13 Y">0,08</i><i class="k14 G">1266</i><i class="k15 G">1618</i><i class="k16 G">5470</i><i class="k17 T">7826</i><i class="k18 P">0</i></div>
<div class="r" style="top:677.32px"><b class="n">37</b><b class="nm">Makar669</b><i class="rl X">Солдат</i><i class="k0 T">209</i><i class="k1 P">27475</i><i class="k2 T">57,1%</i><i class="k3 T">1,24</i><i class="k4 P">1,31</i><i class="k5 G">1,13</i><i class="k6 T">1,26</i><i class="k7 G">7,30</i><i class="k8 T">1993</i><i class="k9 T">675</i><i class="k10 P">205</i><i class="k11 P">14</i><i class="k12 Y">2</i><i class="k13 G">0,11</i><i class="k14 T">1486</i><i class="k15 T">2139</i><i class="k16 T">6789</i><i class="k17 P">9082</i><i class="k18 Y">15</i></div>
<div class="r" style="top:690.98px"><b class="n">38</b><b class="nm">Jedi03</b><i class="rl X">Солдат</i><i class="k0 T">206</i><i class="k1 P">32919</i><i class="k2 G">55,9%</i><i class="k3 G">1,16</i><i class="k4 G">1,16</i><i class="k5 Y">1,02</i><i class="k6 T">1,22</i><i class="k7 G">7,58</i><i class="k8 G">1781</i><i class="k9 T">695</i><i class="k10 P">208</i><i class="k11 P">20</i><i class="k12 T">4</i><i class="k13 Y">0,08</i><i class="k14 G">1372</i><i class="k15 G">1865</i><i class="k16 G">6138</i><i class="k17 P">8592</i><i class="k18 P">0</i></div>
<div class="r" style="top:704.64px"><b class="n">39</b><b class="nm">stalmans</b><i class="rl X">Солдат</i><i class="k0 T">202</i><i class="k1 P">24708</i><i class="k2 G">54,6%</i><i class="k3 G">1,16</i><i class="k4 P">1,36</i><i class="k5 O">0,93</i><i class="k6 P">2,07</i><i class="k7 T">7,77</i><i class="k8 T">2017</i><i class="k9 T">708</i><i class="k10 G">102</i><i class="k11 T">11</i><i class="k12 O">1</i><i class="k13 G">0,10</i><i class="k14 T">1559</i><i class="k15 T">2110</i><i class="k16 T">7560</i><i class="k17 P">8661</i><i class="k18 T">5</i></div>
<div class="r" style="top:718.30px"><b class="n">40</b><b class="nm">ROMCHIKEEE</b><i class="rl X">Солдат</i><i class="k0 T">201</i><i class="k1 P">26836</i><i class="k2 G">53,4%</i><i class="k3 G">1,11</i><i class="k4 G">1,11</i><i class="k5 T">1,23</i><i class="k6 P">1,59</i><i class="k7 G">7,58</i><i class="k8 Y">1688</i><i class="k9 G">624</i><i class="k10 T">139</i><i class="k11 P">17</i><i class="k12 P">7</i><i class="k13 G">0,09</i><i class="k14 T">1399</i><i class="k15 G">1696</i><i class="k16 G">5897</i><i class="k17 T">7721</i><i class="k18 P">0</i></div>
<div class="r" style="top:731.96px"><b class="n">41</b><b class="nm">Kula72rus</b><i class="rl X">Солдат</i><i class="k0 T">200</i><i class="k1 T">17263</i><i class="k2 G">55,5%</i><i class="k3 G">1,19</i><i class="k4 P">1,56</i><i class="k5 O">0,98</i><i class="k6 P">1,47</i><i class="k7 T">7,91</i><i class="k8 T">1938</i><i class="k9 P">761</i><i class="k10 T">133</i><i class="k11 G">8</i><i class="k12 Y">2</i><i class="k13 G">0,10</i><i class="k14 T">1527</i><i class="k15 T">1983</i><i class="k16 T">7010</i><i class="k17 P">8817</i><i class="k18 P">0</i></div>
<div class="r" style="top:745.62px"><b class="n">42</b><b class="nm">stalinui</b><i class="rl X">Солдат</i><i class="k0 T">199</i><i class="k1 P">24790</i><i class="k2 G">55,9%</i><i class="k3 G">1,20</i><i class="k4 T">1,27</i><i class="k5 T">1,23</i><i class="k6 P">1,97</i><i class="k7 Y">6,94</i><i class="k8 T">1851</i><i class="k9 T">708</i><i class="k10 P">206</i><i class="k11 P">15</i><i class="k12 P">6</i><i class="k13 G">0,10</i><i class="k14 T">1503</i><i class="k15 T">2053</i><i class="k16 G">6478</i><i class="k17 T">8094</i><i class="k18 P">1</i></div>
<div class="r" style="top:759.28px"><b class="n">43</b><b class="nm">KhadiK</b><i class="rl X">Солдат</i><i class="k0 T">193</i><i class="k1 P">30038</i><i class="k2 G">53,8%</i><i class="k3 G">1,17</i><i class="k4 P">1,43</i><i class="k5 R">0,68</i><i class="k6 G">1,20</i><i class="k7 P">8,69</i><i class="k8 T">2022</i><i class="k9 P">751</i><i class="k10 T">110</i><i class="k11 P">18</i><i class="k12 G">3</i><i class="k13 G">0,09</i><i class="k14 T">1489</i><i class="k15 G">1907</i><i class="k16 T">7634</i><i class="k17 T">8333</i><i class="k18 P">0</i></div>
<div class="r" style="top:772.94px"><b class="n">44</b><b class="nm">Romarionext</b><i class="rl X">Солдат</i><i class="k0 T">189</i><i class="k1 P">33301</i><i class="k2 G">53,8%</i><i class="k3 P">1,33</i><i class="k4 R">0,75</i><i class="k5 T">1,30</i><i class="k6 T">1,25</i><i class="k7 P">8,27</i><i class="k8 T">1949</i><i class="k9 T">695</i><i class="k10 T">126</i><i class="k11 P">22</i><i class="k12 Y">2</i><i class="k13 Y">0,08</i><i class="k14 T">1480</i><i class="k15 G">1884</i><i class="k16 T">7297</i><i class="k17 P">8674</i><i class="k18 P">0</i></div>
<div class="r" style="top:786.60px"><b class="n">45</b><b class="nm">civictr</b><i class="rl X">Солдат</i><i class="k0 T">183</i><i class="k1 P">28983</i><i class="k2 G">55,2%</i><i class="k3 T">1,26</i><i class="k4 T">1,28</i><i class="k5 O">0,95</i><i class="k6 T">1,28</i><i class="k7 P">8,48</i><i class="k8 P">2108</i><i class="k9 P">776</i><i class="k10 T">110</i><i class="k11 P">25</i><i class="k12 G">3</i><i class="k13 G">0,10</i><i class="k14 T">1557</i><i class="k15 T">2136</i><i class="k16 T">8141</i><i class="k17 P">9302</i><i class="k18 G">11</i></div>
<div class="r" style="top:800.26px"><b class="n">46</b><b class="nm">Amigo24rus</b><i class="rl X">Солдат</i><i class="k0 G">181</i><i class="k1 T">12024</i><i class="k2 P">60,9%</i><i class="k3 P">1,75</i><i class="k4 P">1,66</i><i class="k5 P">1,66</i><i class="k6 P">2,83</i><i class="k7 O">6,35</i><i class="k8 G">1888</i><i class="k9 P">816</i><i class="k10 Y">69</i><i class="k11 O">5</i><i class="k12 G">3</i><i class="k13 P">0,18</i><i class="k14 P">1815</i><i class="k15 T">2338</i><i class="k16 T">7378</i><i class="k17 P">8663</i><i class="k18 T">3</i></div>
<div class="r" style="top:813.91px"><b class="n">47</b><b class="nm">vital777555</b><i class="rl X">Солдат</i><i class="k0 G">177</i><i class="k1 P">38533</i><i class="k2 G">55,5%</i><i class="k3 T">1,27</i><i class="k4 T">1,27</i><i class="k5 R">0,79</i><i class="k6 T">1,25</i><i class="k7 G">7,49</i><i class="k8 T">2094</i><i class="k9 T">717</i><i class="k10 P">288</i><i class="k11 P">33</i><i class="k12 T">4</i><i class="k13 G">0,10</i><i class="k14 G">1473</i><i class="k15 T">2189</i><i class="k16 T">7215</i><i class="k17 P">8654</i><i class="k18 P">0</i></div>
<div class="r" style="top:827.57px"><b class="n">48</b><b class="nm">KPEMEHb____</b><i class="rl X">Солдат</i><i class="k0 G">177</i><i class="k1 P">36970</i><i class="k2 G">53,8%</i><i class="k3 T">1,25</i><i class="k4 P">1,70</i><i class="k5 R">0,77</i><i class="k6 P">1,63</i><i class="k7 P">8,46</i><i class="k8 G">1749</i><i class="k9 T">726</i><i class="k10 T">125</i><i class="k11 P">17</i><i class="k12 Y">2</i><i class="k13 G">0,10</i><i class="k14 T">1514</i><i class="k15 G">1785</i><i class="k16 T">7387</i><i class="k17 P">8615</i><i class="k18 G">9</i></div>
<div class="r" style="top:841.23px"><b class="n">49</b><b class="nm">WEST_____</b><i class="rl X">Солдат</i><i class="k0 G">171</i><i class="k1 P">22750</i><i class="k2 T">58,9%</i><i class="k3 G">1,20</i><i class="k4 G">1,18</i><i class="k5 R">0,82</i><i class="k6 P">1,98</i><i class="k7 T">7,71</i><i class="k8 T">2050</i><i class="k9 P">758</i><i class="k10 P">165</i><i class="k11 P">12</i><i class="k12 P">6</i><i class="k13 G">0,10</i><i class="k14 T">1525</i><i class="k15 G">1955</i><i class="k16 T">7500</i><i class="k17 P">9405</i><i class="k18 P">0</i></div>
<div class="r" style="top:854.89px"><b class="n">50</b><b class="nm">Fantom_dv</b><i class="rl X">Солдат</i><i class="k0 G">168</i><i class="k1 O">4114</i><i class="k2 P">64,2%</i><i class="k3 P">1,42</i><i class="k4 P">1,45</i><i class="k5 O">0,99</i><i class="k6 T">1,26</i><i class="k7 P">8,32</i><i class="k8 P">2286</i><i class="k9 P">899</i><i class="k10 R">26</i><i class="k11 O">5</i><i class="k12 T">4</i><i class="k13 P">0,15</i><i class="k14 T">1674</i><i class="k15 T">2319</i><i class="k16 T">7724</i><i class="k17 P">8724</i><i class="k18 R">55</i></div>
<div class="r" style="top:868.55px"><b class="n">51</b><b class="nm">Kar1Fana</b><i class="rl X">Солдат</i><i class="k0 G">163</i><i class="k1 T">19935</i><i class="k2 P">61,7%</i><i class="k3 P">1,44</i><i class="k4 P">1,37</i><i class="k5 T">1,27</i><i class="k6 P">1,53</i><i class="k7 G">7,64</i><i class="k8 P">2192</i><i class="k9 P">851</i><i class="k10 P">140</i><i class="k11 T">10</i><i class="k12 G">3</i><i class="k13 P">0,15</i><i class="k14 T">1675</i><i class="k15 T">2558</i><i class="k16 P">8501</i><i class="k17 P">9978</i><i class="k18 P">0</i></div>
<div class="r" style="top:882.21px"><b class="n">52</b><b class="nm">Cepera_u3_TauLLleTa</b><i class="rl X">Солдат</i><i class="k0 G">161</i><i class="k1 T">18729</i><i class="k2 G">55,4%</i><i class="k3 T">1,26</i><i class="k4 T">1,26</i><i class="k5 P">1,49</i><i class="k6 P">2,99</i><i class="k7 G">7,38</i><i class="k8 T">1919</i><i class="k9 P">736</i><i class="k10 P">145</i><i class="k11 T">10</i><i class="k12 O">1</i><i class="k13 G">0,10</i><i class="k14 T">1675</i><i class="k15 G">1973</i><i class="k16 T">7842</i><i class="k17 T">8381</i><i class="k18 T">4</i></div>
<div class="r" style="top:895.87px"><b class="n">53</b><b class="nm">molotok7007</b><i class="rl X">Солдат</i><i class="k0 G">158</i><i class="k1 P">23362</i><i class="k2 G">55,7%</i><i class="k3 G">1,14</i><i class="k4 G">1,13</i><i class="k5 O">0,91</i><i class="k6 P">1,95</i><i class="k7 P">8,16</i><i class="k8 G">1853</i><i class="k9 T">707</i><i class="k10 G">109</i><i class="k11 P">14</i><i class="k12 Y">2</i><i class="k13 Y">0,08</i><i class="k14 G">1472</i><i class="k15 G">1821</i><i class="k16 T">7003</i><i class="k17 P">8734</i><i class="k18 P">0</i></div>
<div class="r" style="top:909.53px"><b class="n">54</b><b class="nm">Reflex_911</b><i class="rl X">Солдат</i><i class="k0 G">154</i><i class="k1 G">9479</i><i class="k2 T">56,6%</i><i class="k3 G">1,19</i><i class="k4 T">1,24</i><i class="k5 P">1,31</i><i class="k6 T">1,24</i><i class="k7 T">7,94</i><i class="k8 G">1862</i><i class="k9 T">727</i><i class="k10 Y">77</i><i class="k11 O">5</i><i class="k12 Y">2</i><i class="k13 T">0,11</i><i class="k14 T">1479</i><i class="k15 G">1927</i><i class="k16 G">6217</i><i class="k17 T">8376</i><i class="k18 P">0</i></div>
<div class="r" style="top:923.19px"><b class="n">55</b><b class="nm">VafenTrahen</b><i class="rl X">Солдат</i><i class="k0 G">153</i><i class="k1 T">17722</i><i class="k2 T">58,4%</i><i class="k3 G">1,16</i><i class="k4 P">1,52</i><i class="k5 R">0,79</i><i class="k6 P">1,61</i><i class="k7 P">8,28</i><i class="k8 G">1849</i><i class="k9 P">769</i><i class="k10 G">103</i><i class="k11 T">11</i><i class="k12 O">1</i><i class="k13 G">0,10</i><i class="k14 T">1486</i><i class="k15 G">1893</i><i class="k16 T">6994</i><i class="k17 P">8971</i><i class="k18 T">4</i></div>
<div class="r" style="top:936.85px"><b class="n">56</b><b class="nm">XauBaH_UFA</b><i class="rl X">Солдат</i><i class="k0 G">152</i><i class="k1 P">24836</i><i class="k2 T">57,1%</i><i class="k3 P">1,36</i><i class="k4 G">1,19</i><i class="k5 T">1,23</i><i class="k6 Y">1,05</i><i class="k7 G">7,41</i><i class="k8 P">2106</i><i class="k9 P">750</i><i class="k10 P">164</i><i class="k11 P">14</i><i class="k12 G">3</i><i class="k13 T">0,11</i><i class="k14 T">1525</i><i class="k15 T">2226</i><i class="k16 T">7228</i><i class="k17 P">9178</i><i class="k18 P">2</i></div>
<div class="r" style="top:950.50px"><b class="n">57</b><b class="nm">4illy_Willy</b><i class="rl X">Солдат</i><i class="k0 G">149</i><i class="k1 G">11459</i><i class="k2 T">59,7%</i><i class="k3 P">1,35</i><i class="k4 P">1,47</i><i class="k5 R">0,73</i><i class="k6 P">1,58</i><i class="k7 P">8,18</i><i class="k8 P">2357</i><i class="k9 P">860</i><i class="k10 Y">72</i><i class="k11 Y">6</i><i class="k12 G">3</i><i class="k13 P">0,13</i><i class="k14 T">1671</i><i class="k15 T">2250</i><i class="k16 P">8546</i><i class="k17 P">9330</i><i class="k18 P">1</i></div>
<div class="r" style="top:964.16px"><b class="n">58</b><b class="nm">_PaXaS_</b><i class="rl X">Солдат</i><i class="k0 G">148</i><i class="k1 Y">6172</i><i class="k2 P">61,6%</i><i class="k3 P">1,75</i><i class="k4 R">0,86</i><i class="k5 P">1,55</i><i class="k6 P">1,71</i><i class="k7 P">8,15</i><i class="k8 P">2394</i><i class="k9 P">866</i><i class="k10 Y">69</i><i class="k11 Y">6</i><i class="k12 Y">2</i><i class="k13 T">0,12</i><i class="k14 P">1827</i><i class="k15 T">2199</i><i class="k16 P">9043</i><i class="k17 P">8896</i><i class="k18 P">0</i></div>
<div class="r" style="top:977.82px"><b class="n">59</b><b class="nm">BanZaiKa04rus</b><i class="rl X">Солдат</i><i class="k0 G">145</i><i class="k1 P">35254</i><i class="k2 G">54,0%</i><i class="k3 Y">1,09</i><i class="k4 T">1,23</i><i class="k5 R">0,75</i><i class="k6 P">1,77</i><i class="k7 P">8,18</i><i class="k8 G">1772</i><i class="k9 T">713</i><i class="k10 P">159</i><i class="k11 P">18</i><i class="k12 G">3</i><i class="k13 Y">0,09</i><i class="k14 G">1408</i><i class="k15 G">1693</i><i class="k16 T">6722</i><i class="k17 P">8405</i><i class="k18 P">0</i></div>
<div class="r" style="top:991.48px"><b class="n">60</b><b class="nm">PoMka203</b><i class="rl X">Солдат</i><i class="k0 G">145</i><i class="k1 P">24074</i><i class="k2 G">55,5%</i><i class="k3 P">1,38</i><i class="k4 G">1,14</i><i class="k5 P">1,51</i><i class="k6 P">1,32</i><i class="k7 P">8,03</i><i class="k8 T">1960</i><i class="k9 T">659</i><i class="k10 T">125</i><i class="k11 P">14</i><i class="k12 Y">2</i><i class="k13 G">0,10</i><i class="k14 T">1585</i><i class="k15 T">2150</i><i class="k16 T">7550</i><i class="k17 P">8775</i><i class="k18 R">52</i></div>
<div class="r" style="top:1005.14px"><b class="n">61</b><b class="nm">Surje</b><i class="rl X">Солдат</i><i class="k0 G">145</i><i class="k1 T">19283</i><i class="k2 T">63,7%</i><i class="k3 P">1,34</i><i class="k4 T">1,26</i><i class="k5 P">1,31</i><i class="k6 G">1,14</i><i class="k7 P">8,01</i><i class="k8 P">2210</i><i class="k9 P">768</i><i class="k10 T">119</i><i class="k11 P">12</i><i class="k12 G">3</i><i class="k13 P">0,13</i><i class="k14 T">1618</i><i class="k15 T">2503</i><i class="k16 P">8325</i><i class="k17 P">9808</i><i class="k18 T">4</i></div>
<div class="r" style="top:1018.80px"><b class="n">62</b><b class="nm">Gordei_mO</b><i class="rl X">Солдат</i><i class="k0 G">141</i><i class="k1 P">22185</i><i class="k2 T">60,6%</i><i class="k3 P">1,34</i><i class="k4 R">0,78</i><i class="k5 Y">1,06</i><i class="k6 P">2,13</i><i class="k7 T">7,80</i><i class="k8 P">2058</i><i class="k9 P">780</i><i class="k10 P">158</i><i class="k11 P">16</i><i class="k12 O">1</i><i class="k13 Y">0,08</i><i class="k14 T">1555</i><i class="k15 T">2045</i><i class="k16 T">7853</i><i class="k17 P">9672</i><i class="k18 P">0</i></div>
<div class="r" style="top:1032.46px"><b class="n">63</b><b class="nm">Vaha_F</b><i class="rl X">Солдат</i><i class="k0 G">139</i><i class="k1 P">24524</i><i class="k2 T">61,4%</i><i class="k3 P">1,40</i><i class="k4 G">1,19</i><i class="k5 O">0,94</i><i class="k6 P">1,39</i><i class="k7 T">7,68</i><i class="k8 P">2349</i><i class="k9 P">794</i><i class="k10 T">112</i><i class="k11 P">12</i><i class="k12 Y">2</i><i class="k13 P">0,14</i><i class="k14 T">1624</i><i class="k15 T">2508</i><i class="k16 P">8558</i><i class="k17 P">10189</i><i class="k18 P">0</i></div>
<div class="r" style="top:1046.12px"><b class="n">64</b><b class="nm">DenSKALA</b><i class="rl X">Солдат</i><i class="k0 G">139</i><i class="k1 P">34045</i><i class="k2 T">58,4%</i><i class="k3 P">1,40</i><i class="k4 P">1,36</i><i class="k5 P">1,72</i><i class="k6 P">1,78</i><i class="k7 P">8,13</i><i class="k8 T">2056</i><i class="k9 P">761</i><i class="k10 P">153</i><i class="k11 P">24</i><i class="k12 P">5</i><i class="k13 T">0,11</i><i class="k14 T">1739</i><i class="k15 T">2280</i><i class="k16 P">9269</i><i class="k17 P">9825</i><i class="k18 P">0</i></div>
<div class="r" style="top:1059.78px"><b class="n">65</b><b class="nm">_SHAR_</b><i class="rl X">Солдат</i><i class="k0 G">137</i><i class="k1 P">43861</i><i class="k2 G">53,5%</i><i class="k3 G">1,10</i><i class="k4 P">1,37</i><i class="k5 R">0,59</i><i class="k6 P">1,72</i><i class="k7 P">8,51</i><i class="k8 T">1913</i><i class="k9 P">732</i><i class="k10 T">126</i><i class="k11 P">18</i><i class="k12 Y">2</i><i class="k13 G">0,09</i><i class="k14 G">1462</i><i class="k15 G">1784</i><i class="k16 T">7568</i><i class="k17 P">8521</i><i class="k18 P">0</i></div>
<div class="r" style="top:1073.43px"><b class="n">66</b><b class="nm">lTomahawkl</b><i class="rl X">Солдат</i><i class="k0 G">137</i><i class="k1 T">14202</i><i class="k2 T">61,9%</i><i class="k3 P">1,54</i><i class="k4 P">1,40</i><i class="k5 P">1,82</i><i class="k6 P">2,10</i><i class="k7 P">8,19</i><i class="k8 T">1978</i><i class="k9 P">823</i><i class="k10 Y">77</i><i class="k11 G">9</i><i class="k12 T">4</i><i class="k13 P">0,15</i><i class="k14 P">1802</i><i class="k15 T">2305</i><i class="k16 P">8971</i><i class="k17 P">9086</i><i class="k18 R">88</i></div>
<div class="r" style="top:1087.09px"><b class="n">67</b><b class="nm">Nikitaq1w</b><i class="rl X">Солдат</i><i class="k0 G">136</i><i class="k1 P">22359</i><i class="k2 T">56,5%</i><i class="k3 Y">1,06</i><i class="k4 T">1,26</i><i class="k5 O">0,98</i><i class="k6 P">1,80</i><i class="k7 T">7,79</i><i class="k8 G">1814</i><i class="k9 T">705</i><i class="k10 G">104</i><i class="k11 T">10</i><i class="k12 O">1</i><i class="k13 T">0,11</i><i class="k14 G">1440</i><i class="k15 G">1870</i><i class="k16 T">6524</i><i class="k17 P">8966</i><i class="k18 P">0</i></div>
<div class="r" style="top:1100.75px"><b class="n">68</b><b class="nm">Dmitr0</b><i class="rl X">Солдат</i><i class="k0 G">136</i><i class="k1 P">32967</i><i class="k2 T">59,3%</i><i class="k3 T">1,27</i><i class="k4 P">1,32</i><i class="k5 R">0,78</i><i class="k6 P">1,54</i><i class="k7 P">8,10</i><i class="k8 P">2132</i><i class="k9 P">772</i><i class="k10 P">200</i><i class="k11 P">28</i><i class="k12 P">5</i><i class="k13 G">0,11</i><i class="k14 T">1559</i><i class="k15 T">2198</i><i class="k16 P">8265</i><i class="k17 P">9599</i><i class="k18 P">1</i></div>
<div class="r" style="top:1114.41px"><b class="n">69</b><b class="nm">fin5</b><i class="rl X">Солдат</i><i class="k0 G">136</i><i class="k1 P">36199</i><i class="k2 G">55,3%</i><i class="k3 G">1,13</i><i class="k4 O">0,93</i><i class="k5 O">0,98</i><i class="k6 P">2,18</i><i class="k7 G">7,27</i><i class="k8 G">1733</i><i class="k9 G">594</i><i class="k10 T">121</i><i class="k11 P">12</i><i class="k12 Y">2</i><i class="k13 Y">0,09</i><i class="k14 G">1396</i><i class="k15 G">1757</i><i class="k16 G">6142</i><i class="k17 T">8246</i><i class="k18 P">0</i></div>
<div class="r" style="top:1128.07px"><b class="n">70</b><b class="nm">Shatunbabay</b><i class="rl X">Солдат</i><i class="k0 G">135</i><i class="k1 P">42389</i><i class="k2 G">54,5%</i><i class="k3 T">1,25</i><i class="k4 O">0,95</i><i class="k5 T">1,21</i><i class="k6 P">1,71</i><i class="k7 G">7,12</i><i class="k8 G">1843</i><i class="k9 T">688</i><i class="k10 P">237</i><i class="k11 P">19</i><i class="k12 P">6</i><i class="k13 Y">0,08</i><i class="k14 G">1445</i><i class="k15 G">1832</i><i class="k16 T">6539</i><i class="k17 T">8288</i><i class="k18 P">0</i></div>
<div class="r" style="top:1141.73px"><b class="n">71</b><b class="nm">amra</b><i class="rl X">Солдат</i><i class="k0 G">135</i><i class="k1 P">26019</i><i class="k2 T">57,4%</i><i class="k3 P">1,30</i><i class="k4 P">1,33</i><i class="k5 T">1,23</i><i class="k6 P">1,67</i><i class="k7 T">7,80</i><i class="k8 T">2031</i><i class="k9 P">790</i><i class="k10 P">210</i><i class="k11 P">22</i><i class="k12 P">5</i><i class="k13 T">0,12</i><i class="k14 T">1602</i><i class="k15 T">2227</i><i class="k16 T">7946</i><i class="k17 P">9408</i><i class="k18 P">0</i></div>
<div class="r" style="top:1155.39px"><b class="n">72</b><b class="nm">uM6oBbIu</b><i class="rl X">Солдат</i><i class="k0 G">118</i><i class="k1 G">10223</i><i class="k2 T">63,9%</i><i class="k3 P">1,50</i><i class="k4 P">1,33</i><i class="k5 P">1,43</i><i class="k6 P">3,06</i><i class="k7 G">7,38</i><i class="k8 P">2257</i><i class="k9 P">834</i><i class="k10 Y">71</i><i class="k11 Y">6</i><i class="k12 O">1</i><i class="k13 P">0,13</i><i class="k14 P">1842</i><i class="k15 T">2242</i><i class="k16 P">9285</i><i class="k17 P">9088</i><i class="k18 P">0</i></div>
<div class="r" style="top:1169.05px"><b class="n">73</b><b class="nm">RUSproZEVS</b><i class="rl X">Солдат</i><i class="k0 G">115</i><i class="k1 P">21071</i><i class="k2 G">55,6%</i><i class="k3 T">1,21</i><i class="k4 O">0,91</i><i class="k5 R">0,80</i><i class="k6 P">2,33</i><i class="k7 P">8,36</i><i class="k8 T">2057</i><i class="k9 P">743</i><i class="k10 T">112</i><i class="k11 T">11</i><i class="k12 O">1</i><i class="k13 G">0,09</i><i class="k14 T">1549</i><i class="k15 G">1934</i><i class="k16 T">7981</i><i class="k17 P">9053</i><i class="k18 P">0</i></div>
<div class="r" style="top:1182.71px"><b class="n">74</b><b class="nm">dobryi_fei</b><i class="rl X">Солдат</i><i class="k0 G">112</i><i class="k1 P">21060</i><i class="k2 T">57,1%</i><i class="k3 P">1,43</i><i class="k4 O">0,94</i><i class="k5 P">1,58</i><i class="k6 P">1,51</i><i class="k7 P">8,19</i><i class="k8 P">2318</i><i class="k9 P">826</i><i class="k10 P">154</i><i class="k11 P">15</i><i class="k12 T">4</i><i class="k13 G">0,09</i><i class="k14 T">1722</i><i class="k15 T">2216</i><i class="k16 P">9231</i><i class="k17 P">9494</i><i class="k18 P">0</i></div>
<div class="r" style="top:1196.37px"><b class="n">75</b><b class="nm">dalay92</b><i class="rl X">Солдат</i><i class="k0 G">107</i><i class="k1 P">31187</i><i class="k2 T">61,6%</i><i class="k3 G">1,18</i><i class="k4 G">1,10</i><i class="k5 O">0,98</i><i class="k6 P">1,95</i><i class="k7 G">7,36</i><i class="k8 T">1956</i><i class="k9 T">708</i><i class="k10 P">185</i><i class="k11 P">17</i><i class="k12 G">3</i><i class="k13 G">0,09</i><i class="k14 T">1483</i><i class="k15 T">2019</i><i class="k16 T">7154</i><i class="k17 P">10325</i><i class="k18 T">7</i></div>
<div class="r" style="top:1210.02px"><b class="n">76</b><b class="nm">sergofanchik87</b><i class="rl X">Солдат</i><i class="k0 G">93</i><i class="k1 P">25801</i><i class="k2 T">56,1%</i><i class="k3 Y">1,09</i><i class="k4 G">1,15</i><i class="k5 Y">1,02</i><i class="k6 T">1,29</i><i class="k7 G">7,67</i><i class="k8 G">1857</i><i class="k9 G">593</i><i class="k10 P">141</i><i class="k11 G">9</i><i class="k12 T">4</i><i class="k13 G">0,10</i><i class="k14 G">1386</i><i class="k15 G">1847</i><i class="k16 G">6136</i><i class="k17 P">8744</i><i class="k18 P">0</i></div>
<div class="r" style="top:1223.68px"><b class="n">77</b><b class="nm">Evmen325</b><i class="rl X">Солдат</i><i class="k0 G">82</i><i class="k1 T">16674</i><i class="k2 T">58,1%</i><i class="k3 P">1,36</i><i class="k4 O">0,90</i><i class="k5 P">1,70</i><i class="k6 P">1,97</i><i class="k7 G">7,26</i><i class="k8 P">2315</i><i class="k9 P">766</i><i class="k10 Y">72</i><i class="k11 T">10</i><i class="k12 T">4</i><i class="k13 T">0,11</i><i class="k14 T">1708</i><i class="k15 T">2044</i><i class="k16 T">8376</i><i class="k17 P">9415</i><i class="k18 P">0</i></div>
<div class="r" style="top:1237.34px"><b class="n">78</b><b class="nm">starley9</b><i class="rl X">Солдат</i><i class="k0 G">81</i><i class="k1 P">21448</i><i class="k2 T">57,7%</i><i class="k3 P">1,37</i><i class="k4 Y">1,05</i><i class="k5 T">1,28</i><i class="k6 P">2,59</i><i class="k7 G">7,08</i><i class="k8 T">1982</i><i class="k9 P">742</i><i class="k10 T">135</i><i class="k11 P">14</i><i class="k12 P">10</i><i class="k13 G">0,09</i><i class="k14 T">1616</i><i class="k15 G">1920</i><i class="k16 T">7530</i><i class="k17 P">8748</i><i class="k18 P">2</i></div>
<div class="r" style="top:1251.00px"><b class="n">79</b><b class="nm">Elvis_I7okuHyJI_3gaH</b><i class="rl X">Солдат</i><i class="k0 G">80</i><i class="k1 P">29040</i><i class="k2 T">60,7%</i><i class="k3 T">1,26</i><i class="k4 P">1,34</i><i class="k5 G">1,12</i><i class="k6 P">1,51</i><i class="k7 T">7,89</i><i class="k8 T">2053</i><i class="k9 T">727</i><i class="k10 P">145</i><i class="k11 P">15</i><i class="k12 Y">2</i><i class="k13 T">0,12</i><i class="k14 T">1570</i><i class="k15 T">2155</i><i class="k16 T">7961</i><i class="k17 P">10034</i><i class="k18 Y">17</i></div>
<div class="r" style="top:1264.66px"><b class="n">80</b><b class="nm">chen6627</b><i class="rl X">Солдат</i><i class="k0 G">73</i><i class="k1 T">15233</i><i class="k2 T">61,1%</i><i class="k3 P">1,40</i><i class="k4 G">1,13</i><i class="k5 P">1,43</i><i class="k6 P">1,71</i><i class="k7 T">7,76</i><i class="k8 P">2279</i><i class="k9 P">815</i><i class="k10 G">101</i><i class="k11 P">13</i><i class="k12 G">3</i><i class="k13 P">0,13</i><i class="k14 T">1704</i><i class="k15 T">2401</i><i class="k16 P">8640</i><i class="k17 P">9860</i><i class="k18 P">0</i></div>
<div class="r" style="top:1278.32px"><b class="n">81</b><b class="nm">Khramenkov</b><i class="rl X">Солдат</i><i class="k0 G">72</i><i class="k1 P">38979</i><i class="k2 G">56,2%</i><i class="k3 T">1,25</i><i class="k4 P">1,46</i><i class="k5 Y">1,06</i><i class="k6 P">2,16</i><i class="k7 G">7,64</i><i class="k8 T">1955</i><i class="k9 T">692</i><i class="k10 P">195</i><i class="k11 P">25</i><i class="k12 P">6</i><i class="k13 T">0,11</i><i class="k14 T">1598</i><i class="k15 G">1962</i><i class="k16 T">7974</i><i class="k17 P">8842</i><i class="k18 P">0</i></div>
<div class="r" style="top:1291.98px"><b class="n">82</b><b class="nm">GangMafia</b><i class="rl X">Солдат</i><i class="k0 G">71</i><i class="k1 P">31491</i><i class="k2 G">56,0%</i><i class="k3 P">1,42</i><i class="k4 R">0,86</i><i class="k5 T">1,29</i><i class="k6 P">2,03</i><i class="k7 G">7,60</i><i class="k8 T">1970</i><i class="k9 T">655</i><i class="k10 P">148</i><i class="k11 P">17</i><i class="k12 R">0</i><i class="k13 G">0,10</i><i class="k14 T">1576</i><i class="k15 T">2058</i><i class="k16 T">7639</i><i class="k17 P">8920</i><i class="k18 P">0</i></div>
<div class="r" style="top:1305.64px"><b class="n">83</b><b class="nm">Q_Cyber</b><i class="rl X">Солдат</i><i class="k0 G">70</i><i class="k1 P">29017</i><i class="k2 G">56,3%</i><i class="k3 T">1,23</i><i class="k4 Y">1,09</i><i class="k5 G">1,10</i><i class="k6 P">1,68</i><i class="k7 G">7,28</i><i class="k8 T">2019</i><i class="k9 T">718</i><i class="k10 T">133</i><i class="k11 T">11</i><i class="k12 O">1</i><i class="k13 Y">0,09</i><i class="k14 T">1500</i><i class="k15 T">2017</i><i class="k16 T">7033</i><i class="k17 P">8831</i><i class="k18 Y">18</i></div>
<div class="r" style="top:1319.30px"><b class="n">84</b><b class="nm">Baykalman</b><i class="rl X">Солдат</i><i class="k0 Y">67</i><i class="k1 P">27908</i><i class="k2 T">57,3%</i><i class="k3 P">1,31</i><i class="k4 P">1,49</i><i class="k5 Y">1,06</i><i class="k6 P">1,47</i><i class="k7 G">7,44</i><i class="k8 T">2003</i><i class="k9 T">709</i><i class="k10 P">180</i><i class="k11 P">15</i><i class="k12 T">4</i><i class="k13 G">0,11</i><i class="k14 T">1555</i><i class="k15 T">2141</i><i class="k16 T">7342</i><i class="k17 P">9148</i><i class="k18 P">0</i></div>
<div class="r" style="top:1332.96px"><b class="n">85</b><b class="nm">Bargundos</b><i class="rl X">Солдат</i><i class="k0 Y">60</i><i class="k1 T">14927</i><i class="k2 G">56,3%</i><i class="k3 P">1,30</i><i class="k4 T">1,21</i><i class="k5 P">1,68</i><i class="k6 G">1,17</i><i class="k7 T">7,99</i><i class="k8 P">2268</i><i class="k9 P">848</i><i class="k10 G">106</i><i class="k11 T">10</i><i class="k12 O">1</i><i class="k13 T">0,13</i><i class="k14 T">1676</i><i class="k15 T">2413</i><i class="k16 P">8342</i><i class="k17 P">9362</i><i class="k18 P">0</i></div>
<div class="r" style="top:1346.62px"><b class="n">86</b><b class="nm">RenamedUser_454128</b><i class="rl X">Солдат</i><i class="k0 Y">54</i><i class="k1 T">14820</i><i class="k2 G">56,6%</i><i class="k3 P">1,31</i><i class="k4 P">1,37</i><i class="k5 G">1,13</i><i class="k6 P">2,85</i><i class="k7 P">8,11</i><i class="k8 P">2110</i><i class="k9 P">781</i><i class="k10 T">119</i><i class="k11 P">12</i><i class="k12 Y">2</i><i class="k13 P">0,13</i><i class="k14 T">1736</i><i class="k15 T">2264</i><i class="k16 P">8948</i><i class="k17 P">9265</i><i class="k18 P">0</i></div>
<div class="r" style="top:1360.27px"><b class="n">87</b><b class="nm">zayka42</b><i class="rl X">Солдат</i><i class="k0 Y">48</i><i class="k1 P">28518</i><i class="k2 G">56,6%</i><i class="k3 G">1,20</i><i class="k4 Y">1,04</i><i class="k5 O">0,92</i><i class="k6 P">2,16</i><i class="k7 G">7,69</i><i class="k8 T">2028</i><i class="k9 T">759</i><i class="k10 P">207</i><i class="k11 P">20</i><i class="k12 T">4</i><i class="k13 G">0,10</i><i class="k14 T">1526</i><i class="k15 T">2023</i><i class="k16 T">7612</i><i class="k17 P">9081</i><i class="k18 T">7</i></div>
<div class="r" style="top:1373.93px"><b class="n">88</b><b class="nm">Neadekvat_2</b><i class="rl X">Солдат</i><i class="k0 Y">46</i><i class="k1 T">17008</i><i class="k2 T">60,1%</i><i class="k3 P">1,31</i><i class="k4 R">0,89</i><i class="k5 P">1,33</i><i class="k6 P">2,20</i><i class="k7 G">7,20</i><i class="k8 T">1959</i><i class="k9 T">743</i><i class="k10 Y">67</i><i class="k11 Y">6</i><i class="k12 Y">2</i><i class="k13 G">0,10</i><i class="k14 T">1553</i><i class="k15 G">1835</i><i class="k16 T">7042</i><i class="k17 P">9119</i><i class="k18 P">0</i></div>
<div class="r" style="top:1387.59px"><b class="n">89</b><b class="nm">DenisKa_Bcex_Naqnet</b><i class="rl X">Солдат</i><i class="k0 Y">41</i><i class="k1 R">1897</i><i class="k2 G">64,0%</i><i class="k3 P">1,62</i><i class="k4 P">1,66</i><i class="k5 P">2,13</i><i class="k6 P">5,25</i><i class="k7 G">7,48</i><i class="k8 P">2394</i><i class="k9 P">796</i><i class="k10 R">17</i><i class="k11 R">1</i><i class="k12 O">1</i><i class="k13 P">0,22</i><i class="k14 P">2192</i><i class="k15 P">2673</i><i class="k16 P">10414</i><i class="k17 T">7365</i><i class="k18 P">0</i></div>
<div class="r" style="top:1401.25px"><b class="n">90</b><b class="nm">Aleksandr_ksk</b><i class="rl X">Солдат</i><i class="k0 Y">35</i><i class="k1 Y">5584</i><i class="k2 T">63,2%</i><i class="k3 P">1,48</i><i class="k4 P">1,39</i><i class="k5 P">1,65</i><i class="k6 P">2,71</i><i class="k7 T">8,00</i><i class="k8 P">2192</i><i class="k9 P">838</i><i class="k10 R">18</i><i class="k11 O">3</i><i class="k12 R">0</i><i class="k13 P">0,16</i><i class="k14 P">1869</i><i class="k15 T">2193</i><i class="k16 P">9003</i><i class="k17 P">8772</i><i class="k18 P">0</i></div>
<div class="r" style="top:1414.91px"><b class="n">91</b><b class="nm">snaipero2</b><i class="rl X">Солдат</i><i class="k0 Y">33</i><i class="k1 T">19771</i><i class="k2 G">53,7%</i><i class="k3 T">1,21</i><i class="k4 Y">1,06</i><i class="k5 R">0,74</i><i class="k6 P">1,69</i><i class="k7 P">8,58</i><i class="k8 P">2031</i><i class="k9 T">728</i><i class="k10 T">125</i><i class="k11 P">14</i><i class="k12 P">6</i><i class="k13 Y">0,07</i><i class="k14 T">1505</i><i class="k15 G">1750</i><i class="k16 T">7463</i><i class="k17 P">8813</i><i class="k18 P">0</i></div>
<div class="r" style="top:1428.57px"><b class="n">92</b><b class="nm">Vovanator666</b><i class="rl X">Солдат</i><i class="k0 O">27</i><i class="k1 P">34547</i><i class="k2 T">57,8%</i><i class="k3 P">1,33</i><i class="k4 G">1,17</i><i class="k5 T">1,28</i><i class="k6 P">1,40</i><i class="k7 T">7,94</i><i class="k8 P">2161</i><i class="k9 P">817</i><i class="k10 P">178</i><i class="k11 P">22</i><i class="k12 T">4</i><i class="k13 T">0,11</i><i class="k14 T">1609</i><i class="k15 T">2248</i><i class="k16 P">8517</i><i class="k17 P">10140</i><i class="k18 P">0</i></div>
<div class="r" style="top:1442.23px"><b class="n">93</b><b class="nm">Zh_line</b><i class="rl X">Солдат</i><i class="k0 O">26</i><i class="k1 P">29082</i><i class="k2 G">56,1%</i><i class="k3 G">1,16</i><i class="k4 P">1,84</i><i class="k5 R">0,72</i><i class="k6 P">2,24</i><i class="k7 T">7,90</i><i class="k8 G">1896</i><i class="k9 T">685</i><i class="k10 T">121</i><i class="k11 P">14</i><i class="k12 O">1</i><i class="k13 G">0,11</i><i class="k14 T">1580</i><i class="k15 G">1977</i><i class="k16 T">7725</i><i class="k17 P">8794</i><i class="k18 P">0</i></div>
<div class="r" style="top:1455.89px"><b class="n">94</b><b class="nm">VitaLeeN</b><i class="rl X">Солдат</i><i class="k0 O">26</i><i class="k1 P">23242</i><i class="k2 G">56,4%</i><i class="k3 T">1,26</i><i class="k4 P">1,53</i><i class="k5 T">1,24</i><i class="k6 P">2,11</i><i class="k7 G">7,38</i><i class="k8 T">2001</i><i class="k9 P">751</i><i class="k10 P">210</i><i class="k11 P">23</i><i class="k12 Y">2</i><i class="k13 G">0,11</i><i class="k14 T">1637</i><i class="k15 T">2221</i><i class="k16 T">7752</i><i class="k17 P">9163</i><i class="k18 P">0</i></div>
<div class="r" style="top:1469.55px"><b class="n">95</b><b class="nm">004psv</b><i class="rl X">Солдат</i><i class="k0 R">13</i><i class="k1 Y">5252</i><i class="k2 T">60,2%</i><i class="k3 P">1,42</i><i class="k4 P">1,94</i><i class="k5 R">0,81</i><i class="k6 P">2,15</i><i class="k7 G">7,24</i><i class="k8 P">2404</i><i class="k9 P">859</i><i class="k10 Y">79</i><i class="k11 O">4</i><i class="k12 G">3</i><i class="k13 P">0,16</i><i class="k14 P">1788</i><i class="k15 P">2639</i><i class="k16 T">8091</i><i class="k17 T">8083</i><i class="k18 R">40</i></div>
<div class="r" style="top:1483.20px"><b class="n">96</b><b class="nm">harrier001</b><i class="rl X">Солдат</i><i class="k0 R">7</i><i class="k1 P">27938</i><i class="k2 G">54,0%</i><i class="k3 Y">1,09</i><i class="k4 P">1,53</i><i class="k5 R">0,73</i><i class="k6 P">2,83</i><i class="k7 P">8,07</i><i class="k8 G">1822</i><i class="k9 T">707</i><i class="k10 T">131</i><i class="k11 P">17</i><i class="k12 P">5</i><i class="k13 G">0,10</i><i class="k14 T">1550</i><i class="k15 G">1741</i><i class="k16 T">7659</i><i class="k17 T">8012</i><i class="k18 P">0</i></div>
<div class="r" style="top:1496.86px"><b class="n">97</b><b class="nm">DenisV_24Rus</b><i class="rl X">Солдат</i><i class="k0 R">4</i><i class="k1 P">26373</i><i class="k2 G">54,7%</i><i class="k3 G">1,20</i><i class="k4 Y">1,09</i><i class="k5 R">0,76</i><i class="k6 P">1,89</i><i class="k7 P">8,31</i><i class="k8 T">2070</i><i class="k9 P">738</i><i class="k10 T">139</i><i class="k11 P">17</i><i class="k12 P">5</i><i class="k13 G">0,09</i><i class="k14 T">1528</i><i class="k15 G">1932</i><i class="k16 T">7835</i><i class="k17 P">8845</i><i class="k18 P">2</i></div>
<div class="r" style="top:1510.52px"><b class="n">98</b><b class="nm">_OSOBIST__</b><i class="rl X">Солдат</i><i class="k0 R">4</i><i class="k1 P">28670</i><i class="k2 G">55,0%</i><i class="k3 T">1,21</i><i class="k4 T">1,30</i><i class="k5 T">1,27</i><i class="k6 P">2,45</i><i class="k7 P">8,30</i><i class="k8 T">2058</i><i class="k9 T">727</i><i class="k10 P">159</i><i class="k11 P">23</i><i class="k12 T">4</i><i class="k13 G">0,11</i><i class="k14 T">1683</i><i class="k15 T">2021</i><i class="k16 P">8986</i><i class="k17 P">8998</i><i class="k18 P">0</i></div>
<div class="r" style="top:1524.18px"><b class="n">99</b><b class="nm">tusk83</b><i class="rl X">Солдат</i><i class="k0 R">3</i><i class="k1 P">29533</i><i class="k2 G">54,2%</i><i class="k3 Y">1,07</i><i class="k4 P">1,61</i><i class="k5 R">0,86</i><i class="k6 P">3,08</i><i class="k7 T">7,71</i><i class="k8 G">1801</i><i class="k9 T">652</i><i class="k10 Y">83</i><i class="k11 T">11</i><i class="k12 G">3</i><i class="k13 G">0,09</i><i class="k14 T">1571</i><i class="k15 G">1726</i><i class="k16 T">7558</i><i class="k17 T">7988</i><i class="k18 P">0</i></div>
<div class="r" style="top:1537.84px"><b class="n">100</b><b class="nm">Kirill_42RUS</b><i class="rl X">Новобранец</i><i class="k0 R">2</i><i class="k1 P">30195</i><i class="k2 G">55,4%</i><i class="k3 P">1,39</i><i class="k4 Y">1,07</i><i class="k5 O">0,98</i><i class="k6 P">2,00</i><i class="k7 P">8,17</i><i class="k8 P">2183</i><i class="k9 T">710</i><i class="k10 P">183</i><i class="k11 P">25</i><i class="k12 G">3</i><i class="k13 T">0,12</i><i class="k14 T">1646</i><i class="k15 T">2183</i><i class="k16 P">8805</i><i class="k17 P">9392</i><i class="k18 P">0</i></div>
<div class="r h fh" style="top:1549px"><b class="k0">Стаж</b><b class="k1">Боёв</b><b class="k2">Побед</b><b class="k3">Фраги</b><b class="k4">Засвет</b><b class="k5">Защита</b><b class="k6">Захват</b><b class="k7">Уровень</b><b class="k8">Топ-урон</b><b class="k9">Опыт</b><b class="k10">Танки</b><b class="k11">Топы</b><b class="k12">Премы</b><b class="k13">Наград</b><b class="k14">РЭ</b><b class="k15">WN8</b><b class="k16">БС</b><b class="k17">ЛР</b><b class="k18">Давно</b></div><div class="r fa" style="top:1563.7px"><b class="nm av">В среднем по клану</b><b class="k0 G">130</b><b class="k1 P">23606</b><b class="k2 T">56,6%</b><b class="k3 T">1,25</b><b class="k4 T">1,24</b><b class="k5 Y">1,04</b><b class="k6 P">1,80</b><b class="k7 P">8,00</b><b class="k8 T">2030</b><b class="k9 P">744</b><b class="k10 T">132</b><b class="k11 P">15</b><b class="k12 G">3</b><b class="k13 Y">0,07</b><b class="k14 T">1582</b><b class="k15 T">2063</b><b class="k16 T">7738</b><b class="k17 P">8955</b></div>
<svg style="position:absolute;left:980px;top:1585px" width="10" height="10" viewBox="0 0 10 10"><g fill="#ddd"><circle cx="8" cy="2" r="0.9"/><circle cx="5" cy="5" r="0.9"/><circle cx="8" cy="5" r="0.9"/><circle cx="2" cy="8" r="0.9"/><circle cx="5" cy="8" r="0.9"/><circle cx="8" cy="8" r="0.9"/></g></svg>
</div></body></html>
